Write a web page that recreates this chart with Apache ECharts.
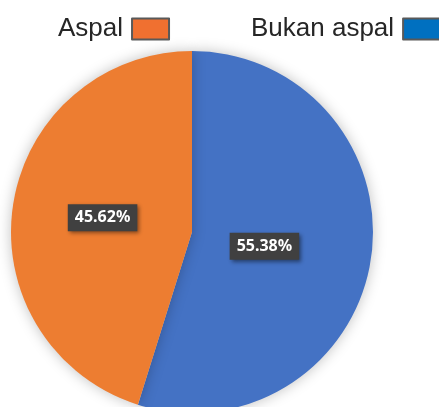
<!DOCTYPE html>
<html>
<head>
<meta charset="utf-8">
<script src="https://cdn.jsdelivr.net/npm/echarts@6/dist/echarts.min.js"></script>
<style>
  html, body { margin: 0; padding: 0; background: #fff; }
  #chart { width: 439px; height: 407px; }
</style>
</head>
<body>
<div id="chart"></div>
<script>
// data
const categories = ['Bukan aspal', 'Aspal']
const values = [55.38, 45.62]
const labelTexts = ['55.38%', '45.62%']

const sliceColors = ['#4472C4', '#ED7D31']
const legendColors = ['#0070C0', '#F07030']
const legendLeft = [246, 53]
const labelOffsets = [[-20, 0], [3, 0]] // blue label sits closer to centre

const chart = echarts.init(document.getElementById('chart'))

// one legend per item so the second one can run off the right edge like the original
const legends = categories.map((c, i) => ({
  data: [{ name: c, itemStyle: { color: legendColors[i], borderColor: '#595959', borderWidth: 2 } }],
  left: legendLeft[i],
  top: 11,
  align: 'right',
  icon: 'rect',
  itemWidth: 37,
  itemHeight: 21,
  selectedMode: false,
  textStyle: { fontFamily: 'Liberation Sans', fontSize: 26, color: '#262626', padding: [0, 4, 0, 0] }
}))

chart.setOption({
  animation: false,
  legend: legends,
  series: [{
    type: 'pie',
    center: [192, 232],
    radius: 181,
    startAngle: 90,
    clockwise: true,
    itemStyle: {
      shadowBlur: 14,
      shadowColor: 'rgba(0,0,0,0.25)'
    },
    label: {
      position: 'inside',
      color: '#fff',
      fontFamily: 'Noto Sans',
      fontWeight: 'bold',
      fontSize: 16,
      backgroundColor: '#404040',
      padding: [6, 7, 5, 7],
      shadowColor: 'rgba(0,0,0,0.45)',
      shadowBlur: 4,
      shadowOffsetX: 2,
      shadowOffsetY: 2
    },
    emphasis: { disabled: true },
    data: categories.map((c, i) => ({
      name: c,
      value: values[i],
      itemStyle: { color: sliceColors[i] },
      label: { formatter: labelTexts[i], offset: labelOffsets[i] }
    }))
  }]
})
</script>
</body>
</html>
